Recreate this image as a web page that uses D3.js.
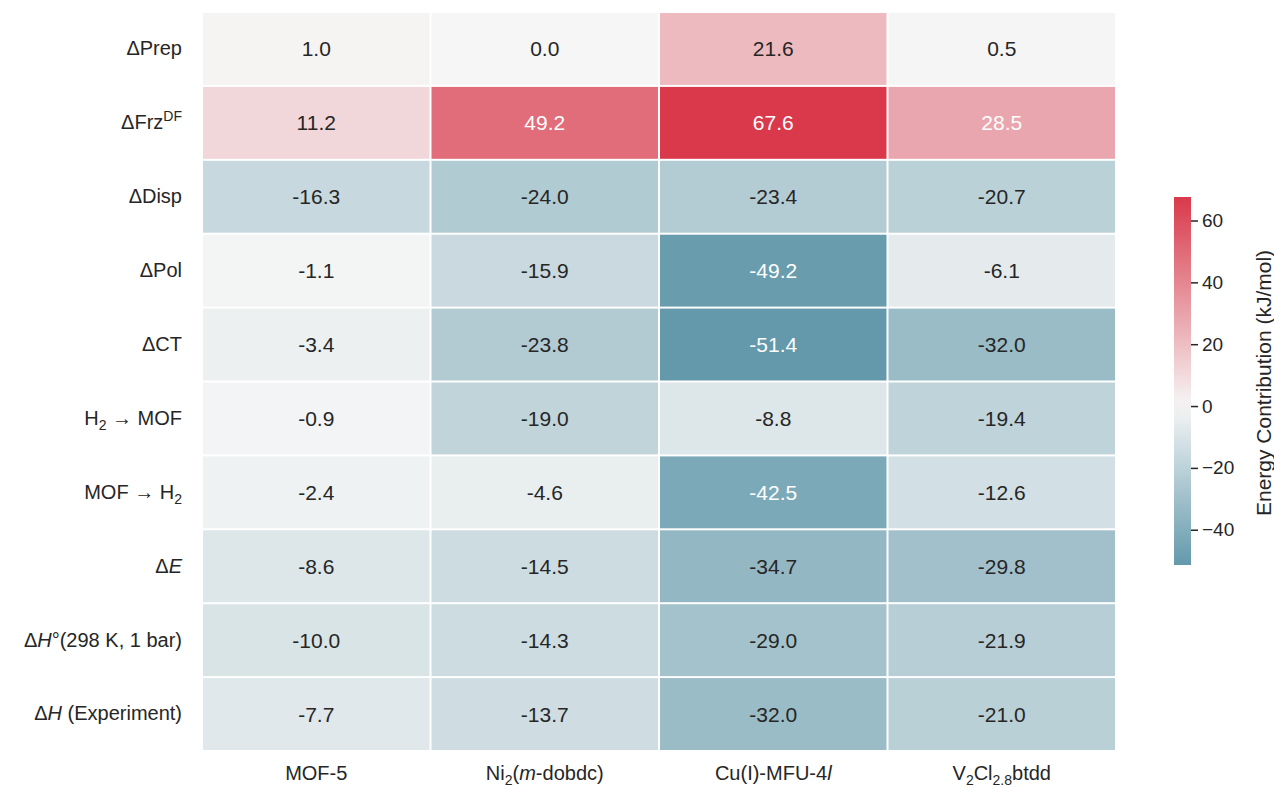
<!DOCTYPE html>
<html><head><meta charset="utf-8">
<script src="https://cdn.jsdelivr.net/npm/d3@7"></script>
<style>
body{margin:0;background:#fff;}
svg text{font-family:"Liberation Sans",Arial,Helvetica,sans-serif;}
</style></head>
<body><svg id="c" width="1274" height="789"></svg>
<script>
const columns = ["MOF-5", "Ni<sub>2</sub>(<i>m</i>-dobdc)", "Cu(I)-MFU-4<i>l</i>", "V<sub>2</sub>Cl<sub>2.8</sub>btdd"];
const rows = ["ΔPrep", "ΔFrz<sup>DF</sup>", "ΔDisp", "ΔPol", "ΔCT", "H<sub>2</sub> → MOF", "MOF  → H<sub>2</sub>", "Δ<i>E</i>", "Δ<i>H</i>°(298 K, 1 bar)", "Δ<i>H</i> (Experiment)"];
const mof5 = [1.0, 11.2, -16.3, -1.1, -3.4, -0.9, -2.4, -8.6, -10.0, -7.7];
const ni2 = [0.0, 49.2, -24.0, -15.9, -23.8, -19.0, -4.6, -14.5, -14.3, -13.7];
const cu = [21.6, 67.6, -23.4, -49.2, -51.4, -8.8, -42.5, -34.7, -29.0, -32.0];
const v2 = [0.5, 28.5, -20.7, -6.1, -32.0, -19.4, -12.6, -29.8, -21.9, -21.0];
const colorTicks = [60, 40, 20, 0, -20, -40];
const seriesValues = [mof5, ni2, cu, v2];

const cells = [];
seriesValues.forEach((s, ci) => s.forEach((v, ri) => cells.push({c: columns[ci], r: rows[ri], v})));
const vmin = d3.min(cells, d => d.v), vmax = d3.max(cells, d => d.v);

const svg = d3.select("#c");
const x = d3.scaleBand().domain(columns).range([202, 1116]);
const y = d3.scaleBand().domain(rows).range([12, 751]);
const color = d3.scaleLinear().domain([vmin, 0, vmax]).range(["#6399ab", "#f6f6f6", "#d9394b"]).interpolate(d3.interpolateRgb);

function rich(sel, str) {
  sel.text(null);
  const re = /<(sub|sup|i)>(.*?)<\/\1>|([^<]+)/g;
  let m, shift = 0;
  while ((m = re.exec(str)) !== null) {
    if (m[3]) {
      const t = sel.append("tspan").text(m[3]);
      if (shift) { t.attr("dy", -shift); shift = 0; }
    } else if (m[1] === "i") {
      const t = sel.append("tspan").attr("font-style", "italic").text(m[2]);
      if (shift) { t.attr("dy", -shift); shift = 0; }
    } else {
      const d = m[1] === "sub" ? 5 : -8;
      sel.append("tspan").attr("font-size", "0.7em").attr("dy", d - shift).text(m[2]);
      shift = d;
    }
  }
}

svg.append("g").selectAll("rect").data(cells).join("rect")
  .attr("x", d => x(d.c) + 1).attr("y", d => y(d.r) + 1)
  .attr("width", x.bandwidth() - 2).attr("height", y.bandwidth() - 2)
  .attr("fill", d => color(d.v));

svg.append("g").selectAll("text").data(cells).join("text")
  .attr("x", d => x(d.c) + x.bandwidth() / 2).attr("y", d => y(d.r) + y.bandwidth() / 2)
  .attr("text-anchor", "middle").attr("dominant-baseline", "central")
  .attr("font-size", 21)
  .attr("fill", d => (d.v > 25 || d.v < -40) ? "#ffffff" : "#262626")
  .text(d => d.v.toFixed(1));

const yAx = svg.append("g").attr("transform", "translate(202,0)")
  .call(d3.axisLeft(y).tickSize(0).tickPadding(20));
yAx.select(".domain").remove();
yAx.selectAll("text").attr("font-size", 20).attr("fill", "#262626")
  .attr("font-family", "Liberation Sans, Arial, sans-serif")
  .each(function(d) { rich(d3.select(this), d); });

const xAx = svg.append("g").attr("transform", "translate(0,751)")
  .call(d3.axisBottom(x).tickSize(0).tickPadding(15));
xAx.select(".domain").remove();
xAx.selectAll("text").attr("font-size", 20).attr("fill", "#262626")
  .attr("font-family", "Liberation Sans, Arial, sans-serif")
  .each(function(d) { rich(d3.select(this), d); });

// colorbar
const cbX = 1174, cbW = 17;
const cy = d3.scaleLinear().domain([vmin, vmax]).range([565, 197]);
const defs = svg.append("defs");
const grad = defs.append("linearGradient").attr("id", "cbg").attr("x1", 0).attr("y1", 1).attr("x2", 0).attr("y2", 0);
d3.range(0, 1.0001, 0.05).forEach(t => {
  const v = vmin + t * (vmax - vmin);
  grad.append("stop").attr("offset", t).attr("stop-color", color(v));
});
svg.append("rect").attr("x", cbX).attr("y", 197).attr("width", cbW).attr("height", 368).attr("fill", "url(#cbg)");
const cAx = svg.append("g").attr("transform", `translate(${cbX + cbW},0)`)
  .call(d3.axisRight(cy).tickValues(colorTicks).tickSize(7).tickPadding(4).tickFormat(d => d < 0 ? "\u2212" + Math.abs(d) : d));
cAx.select(".domain").remove();
cAx.selectAll("line").attr("stroke", "#262626").attr("stroke-width", 1.5);
cAx.selectAll("text").attr("font-size", 19).attr("fill", "#262626").attr("font-family", "Liberation Sans, Arial, sans-serif");
svg.append("text").attr("transform", "translate(1263,383) rotate(-90)")
  .attr("text-anchor", "middle").attr("dominant-baseline", "central")
  .attr("font-size", 21).attr("fill", "#262626").text("Energy Contribution (kJ/mol)");
</script></body></html>
